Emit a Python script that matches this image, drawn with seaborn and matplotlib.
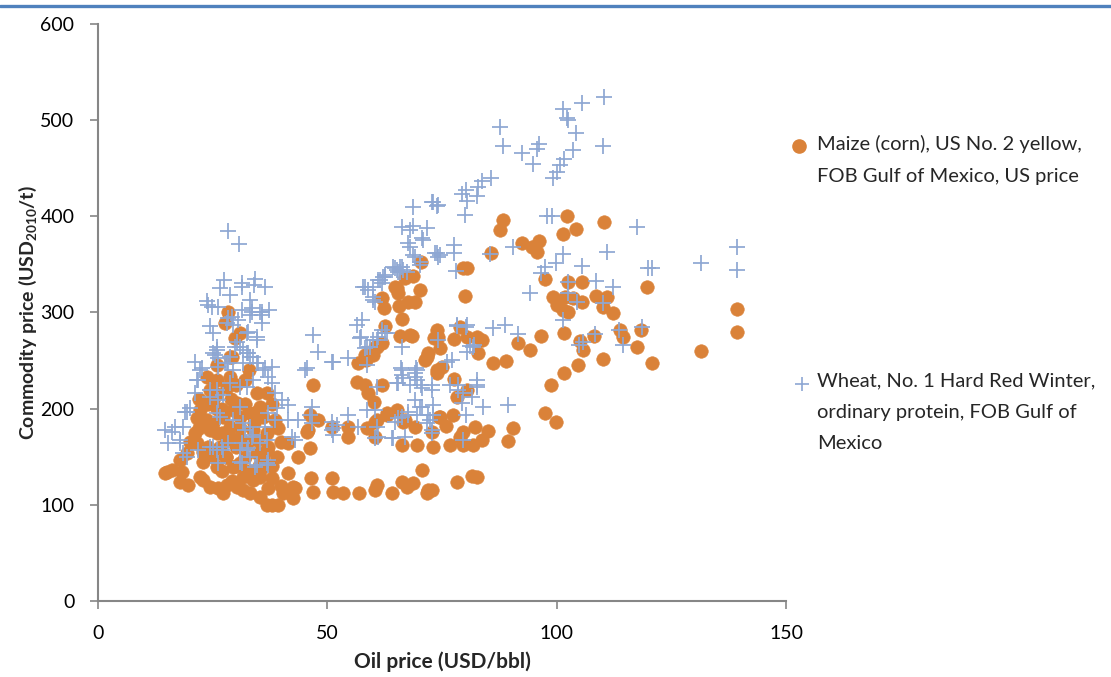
import matplotlib
matplotlib.use("Agg")
import matplotlib.pyplot as plt
from matplotlib.lines import Line2D
import seaborn as sns
import pandas as pd

# ---------------- data ----------------
maize_x = [14.6,15.0,16.1,17.9,18.3,19.6,22.2,22.9,24.4,26.2,27.3,28.1,30.3,31.6,33.1,35.3,36.8,37.9,39.2,40.3,
           42.5,42.9,41.4,42.5,46.4,46.9,51.0,51.2,53.4,56.9,60.4,60.8,64.1,66.3,67.4,68.7,70.6,71.9,72.8,71.7,
           78.3,81.5,82.6,29.2,31.6,33.8,35.3,36.0,29.4,31.0,25.9,25.1,17.9,19.4,38,40,37,27,33,23,
           21.6,21.1,21.6,22.2,23.8,24.4,25.1,23.8,24.4,25.9,26.6,28.1,28.8,27.3,29.4,31.0,30.3,28.8,29.2,28.1,
           33.8,34.7,32.5,34.7,36.0,36.8,36.0,36.8,35.3,34.7,36.8,28.3,27.7,31.0,29.9,28.8,41.4,39.2,43.6,32,
           33,26,30,32,26,24,38,39,40,27,29,31,33,30,26,22,20,28,30,38.6,37.9,
           23,25,27,29,31,34,35,37,24,26,28,32,34,36,22,
           46.9,45.8,46.2,48.0,46.2,45.6,51.0,54.5,54.5,58.6,60.4,60.8,63.0,65.2,66.9,69.1,66.3,69.5,73.0,72.8,
           74.6,56.5,58.2,58.9,60.2,61.9,56.7,58.2,60.4,61.9,68.0,71.3,71.9,73.9,75.0,74.1,66.5,60.4,63.0,
           88.3,87.6,85.7,79.6,80.4,80.0,70.4,68.7,70.2,66.9,64.7,65.4,61.9,62.4,67.6,69.1,65.6,66.3,62.6,68.5,
           73.9,73.3,74.6,77.6,78.9,80.4,82.6,83.7,82.9,71.7,73.9,77.6,80.4,86.1,88.9,60.8,60.0,58.4,65.8,65.2,
           92.4,94.6,96.1,95.7,102.2,104.2,101.4,110.3,91.6,94.2,96.6,98.8,101.6,104.6,110.1,101.6,105.1,105.7,108.1,113.8,
           114.5,118.4,117.5,120.8,119.7,131.5,139.3,139.3,97.5,102.5,105.5,99.2,100.1,101.8,103.6,101.4,102.5,105.5,108.6,111.0,
           110.1,112.3,97.5,99.8,90.5,89.4,85.0,82.2,79.6,78.9,81.8,79.6,76.7,83.7,77.4,74.3,75.9,78.3]
maize_y = [133,134,136,124,134,121,129,126,119,117,112,121,119,115,112,108,100,100,100,112,
           107,118,133,119,128,113,128,113,112,112,115,121,112,124,119,123,136,115,115,112,
           124,130,129,125,129,126,129,139,139,144,139,150,147,154,128,120,118,135,135,145,
           164,175,190,199,233,219,209,188,178,175,160,167,181,191,199,191,206,233,254,223,
           178,167,164,154,150,157,191,175,202,216,216,301,289,279,273,254,164,180,150,230,
           240,245,160,150,200,160,140,150,165,175,170,170,195,225,230,180,165,150,140,188,205,
           155,185,200,210,180,185,140,160,205,215,150,205,195,145,210,
           225,178,159,188,193,176,181,181,171,180,171,188,195,199,188,181,162,162,160,176,
           191,228,225,216,207,225,247,256,264,268,277,251,258,237,243,275,186,186,193,
           396,386,362,346,346,317,352,338,323,336,327,320,315,305,311,311,307,293,286,276,
           282,274,263,272,285,275,275,271,258,254,240,231,219,248,250,264,256,251,276,325,
           372,368,374,363,400,387,382,394,268,261,276,225,237,245,252,279,270,261,276,282,
           275,282,264,248,327,260,304,280,335,332,332,316,308,316,315,303,301,311,317,316,
           306,299,195,186,180,166,177,181,176,171,162,162,162,167,193,191,182,212]

wheat_x = [28.3,30.7,27.5,26.5,28.8,31.4,31.4,34.2,36.4,34.0,23.8,24.9,26.2,33.1,31.4,33.6,35.8,37.3,24.4,28.3,
           30.5,35.8,25.1,32.7,34.7,29.9,31.6,32.5,33.8,25.9,21.1,26.2,28.3,24.0,33.6,35.3,28.1,29.2,29.4,33.1,
           34.7,32.5,25.5,31.0,30.3,35.8,
           14.6,16.1,15.3,18.5,19.4,22.7,21.1,21.8,25.1,25.9,26.2,27.7,28.8,32.7,34.9,36.4,37.9,37.1,37.9,38.6,
           40.1,41.4,39.0,37.1,38.6,36.4,33.6,32.0,31.4,32.7,28.3,27.0,25.1,21.8,19.4,17.9,26.2,31.4,34.2,37.1,
           37.1,42.9,42.3,16.8,17.9,19.0,20.1,21.6,22.2,24.4,24.4,26.2,25.9,27.3,28.8,31.0,32.5,33.8,25.9,26.6,
           29.4,31.0,31.6,33.1,33.8,35.3,36.8,24.4,25.9,27.3,31.0,32.5,33.1,34.7,36.8,31.0,18.5,28.1,31.6,33.1,
           34.7,36.0,29.4,
           46.9,48.0,51.0,54.5,45.6,45.1,46.7,46.2,46.7,43.6,41.4,51.0,51.0,54.5,52.1,51.2,51.2,56.7,56.5,57.6,
           57.3,58.6,58.2,58.9,60.0,61.5,62.6,64.3,65.4,66.5,61.9,60.4,63.0,68.7,73.0,74.1,66.3,68.0,68.7,71.7,
           67.6,70.9,73.5,74.6,69.1,70.2,66.3,65.2,66.3,69.1,74.1,58.2,59.3,60.0,61.9,57.8,60.0,62.1,65.8,65.8,
           70.2,68.7,68.0,70.6,73.9,74.1,66.1,66.3,69.3,69.1,65.2,68.0,70.4,72.8,78.5,82.6,82.6,51.2,57.1,58.6,
           60.8,66.3,69.5,69.5,70.6,72.8,76.1,77.2,80.4,78.3,80.4,81.8,81.1,76.7,78.5,79.6,82.6,81.5,79.4,83.9,
           89.4,69.1,70.2,73.0,73.0,69.5,71.9,66.3,67.6,64.7,64.3,66.9,71.7,72.8,60.4,60.8,58.6,60.4,80.2,79.6,
           61.0,62.6,65.4,66.5,70.6,67.6,65.4,72.4,64.1,72.8,61.0,60.0,61.0,62.6,64.7,67.4,60.8,
           110.3,105.5,101.4,102.2,102.5,104.2,87.6,88.3,96.1,95.7,92.4,94.8,103.6,110.1,101.6,100.7,100.1,99.2,85.7,83.7,
           82.8,80.2,79.4,80.4,82.6,80.0,72.8,73.9,97.9,99.0,117.5,139.3,139.3,131.5,119.9,120.8,111.0,101.4,99.8,97.5,
           105.5,96.6,108.6,112.3,94.2,102.5,102.5,104.4,110.1,101.4,90.5,85.5,77.6,77.6,78.1,78.3,80.2,86.1,88.7,91.6,
           105.7,108.4,113.6,118.6,114.5,104.9,82.0]
wheat_y = [385,371,334,325,318,331,326,335,326,329,312,306,306,313,303,301,301,303,286,294,
           292,289,279,280,271,264,261,258,254,261,249,253,248,308,305,300,289,295,287,297,
           275,279,256,264,269,297,
           178,176,164,181,197,242,216,230,258,264,243,248,254,258,248,242,243,233,227,216,
           209,204,201,196,188,181,171,178,164,159,164,160,160,157,150,164,144,144,139,147,
           141,167,171,181,167,197,201,230,240,219,212,209,219,214,227,223,223,230,196,191,
           188,202,185,181,173,164,167,160,157,157,157,157,150,141,144,145,154,248,248,254,
           248,240,240,
           277,259,249,253,242,240,202,193,185,188,188,186,178,193,183,180,173,181,287,292,
           275,264,326,323,316,334,337,347,342,344,331,311,279,410,415,412,389,386,390,388,
           372,375,362,360,358,352,347,344,264,237,271,263,264,271,282,326,313,337,347,342,
           349,360,368,377,362,358,242,235,242,233,227,225,225,225,225,230,225,249,273,245,
           223,240,240,230,222,219,249,251,287,287,259,264,265,225,219,216,223,212,206,202,
           204,209,202,204,193,193,193,191,193,186,170,171,185,175,170,181,199,199,193,167,
           275,279,227,232,202,197,190,188,170,178,171,326,334,339,346,342,271,
           524,518,512,502,500,487,493,473,475,470,466,454,469,473,460,453,446,440,440,437,
           430,427,423,416,421,401,415,411,400,400,389,368,344,351,346,346,363,361,351,347,
           348,341,333,326,320,332,320,311,310,292,368,361,370,362,343,286,285,284,287,278,
           269,278,282,285,266,266,266]

x_ticks = [0, 50, 100, 150]
y_ticks = [0, 100, 200, 300, 400, 500, 600]
maize_label = "Maize (corn), US No. 2 yellow,\nFOB Gulf of Mexico, US price"
wheat_label = "Wheat, No. 1 Hard Red Winter,\nordinary protein, FOB Gulf of\nMexico"

maize = pd.DataFrame({"oil": maize_x, "price": maize_y})
wheat = pd.DataFrame({"oil": wheat_x, "price": wheat_y})

# ---------------- style ----------------
sns.set_theme(style="white")
plt.rcParams["font.family"] = ["Lato", "DejaVu Sans"]
plt.rcParams["mathtext.fontset"] = "custom"
plt.rcParams["mathtext.bf"] = "Lato:bold"
plt.rcParams["mathtext.rm"] = "Lato:bold"
plt.rcParams["mathtext.default"] = "bf"

ORANGE = "#DA8239"
BLUE = "#8EA7D3"
GRAY = "#868686"

fig = plt.figure(figsize=(11.11, 6.77), dpi=100)
ax = fig.add_axes([98/1111, 1-601/677, (786-98)/1111, (601-24)/677])

sns.scatterplot(data=maize, x="oil", y="price", ax=ax, color=ORANGE, marker="o",
                s=95, edgecolor=ORANGE, linewidth=0.4, legend=False, zorder=2)
sns.scatterplot(data=wheat, x="oil", y="price", ax=ax, color=BLUE, marker="+",
                s=125, linewidth=1.25, legend=False, zorder=3)

ax.set_xlim(0, 150)
ax.set_ylim(0, 600)
ax.set_xticks(x_ticks)
ax.set_yticks(y_ticks)
ax.set_xticklabels([str(v) for v in x_ticks])
ax.set_yticklabels([str(v) for v in y_ticks])
for s in ["top", "right"]:
    ax.spines[s].set_visible(False)
for s in ["left", "bottom"]:
    ax.spines[s].set_color(GRAY)
    ax.spines[s].set_linewidth(1.5)
ax.tick_params(axis="both", which="both", direction="out", length=6, width=1.2,
               color=GRAY, labelsize=14, labelcolor="black")
ax.tick_params(axis="x", pad=11, bottom=True)
ax.tick_params(axis="y", pad=11, left=True)
ax.grid(False)

ax.set_xlabel("Oil price (USD/bbl)", fontsize=15, fontweight="bold", labelpad=7)
ax.set_ylabel(r"Commodity price (USD$_{2010}$/t)", fontsize=14, fontweight="bold", labelpad=1)

# top border line
fig.add_artist(Line2D([0, 1], [1-5.5/677, 1-5.5/677], color="#4F81BD", linewidth=2.4,
                      transform=fig.transFigure))

# legend (manual, right side)
fig.add_artist(Line2D([799/1111], [1-146/677], marker="o", markersize=9.5, color=ORANGE,
                      linestyle="none", transform=fig.transFigure))
fig.text(817/1111, 1-135/677, maize_label, fontsize=14.5, va="top", ha="left",
         linespacing=2.05, transform=fig.transFigure)
fig.add_artist(Line2D([802/1111], [1-384/677], marker="+", markersize=10, color=BLUE,
                      markeredgewidth=1.2, linestyle="none", transform=fig.transFigure))
fig.text(817/1111, 1-372/677, wheat_label, fontsize=14.5, va="top", ha="left",
         linespacing=2.05, transform=fig.transFigure)

fig.savefig("out.png", dpi=100)
